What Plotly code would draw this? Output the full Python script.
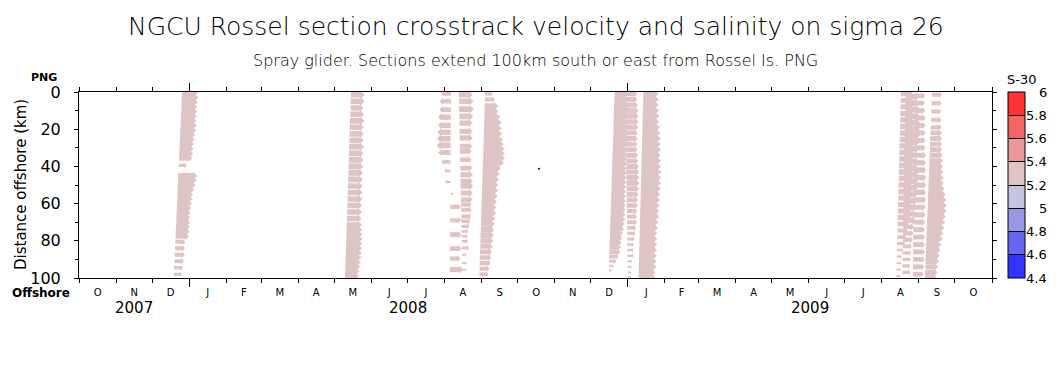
import numpy as np
import pandas as pd
import plotly.graph_objects as go

# ---------------- data ----------------
X_START = "2007-10-01"
X_END = "2009-11-01"
DIST_TICKS = [0, 20, 40, 60, 80, 100]
SAL_LEVELS = [4.4, 4.6, 4.8, 5.0, 5.2, 5.4, 5.6, 5.8, 6.0]
SAL_LABELS = ["4.4", "4.6", "4.8", "5", "5.2", "5.4", "5.6", "5.8", "6"]
SAL_COLORS = ["#3333ff", "#6666f2", "#9999e8", "#c5c5df",
              "#dfc4c6", "#e89999", "#f26666", "#ff3333"]
MONTH_LETTERS = list("ONDJFMAMJJASONDJFMAMJJASO")
YEARS = [2007, 2008, 2009]
VEL_SCALE_DAYS = 40.0  # length on the time axis (days) of a 1 m/s vector

# each section: base time at 0 km and at 100 km, distances (km), crosstrack u (m/s), salinity (S-30)
SEC1_TIME = ["2007-12-26", "2007-12-19"]
SEC1_DIST = [0.5, 3, 5.5, 8, 10.5, 13, 15.5, 18, 20.5, 23, 25.5, 28, 30.5, 33, 35.5, 39.5,
             45, 47.5, 50, 52.5, 55, 57.5, 60, 62.5, 65, 67.5, 70, 72.5, 75, 77.5,
             80.5, 84, 87.5, 91, 94.5, 98]
SEC1_U = [0.33, 0.35, 0.34, 0.33, 0.34, 0.33, 0.33, 0.34, 0.33, 0.31, 0.31, 0.30, 0.29, 0.29, 0.28, 0.17,
          0.40, 0.39, 0.37, 0.35, 0.33, 0.32, 0.31, 0.30, 0.29, 0.29, 0.29, 0.29, 0.29, 0.28,
          0.21, 0.21, 0.21, 0.20, 0.19, 0.17]
SEC1_SAL = 5.3

SEC2_TIME = ["2008-05-15", "2008-05-10"]
SEC2_DIST = [1.5, 5, 8.5, 12, 15.5, 19, 22.5, 26, 29.5, 33, 36.5, 40, 43.5, 47, 50.5, 54, 57.5, 61, 64.5, 68,
             71.5, 74, 76.5, 79, 81.5, 84, 86.5, 89, 91.5, 94, 96.5, 99]
SEC2_U = [0.29, 0.29, 0.27, 0.29, 0.30, 0.29, 0.30, 0.30, 0.31, 0.31, 0.31, 0.31, 0.31, 0.31, 0.31, 0.31,
          0.31, 0.31, 0.31, 0.31, 0.32, 0.33, 0.33, 0.34, 0.34, 0.34, 0.33, 0.33, 0.32, 0.31, 0.30, 0.29]
SEC2_SAL = 5.3

SEC3_TIME = ["2008-08-06 12:00", "2008-08-05 12:00"]
SEC3_DIST = [0.9, 5, 9.5, 13.5, 17.9, 21.7, 25.1, 28.7, 32.5, 37.6, 42.3, 48.4, 54.7,
             61.8, 69, 76.7, 84.2, 89.6, 95.5]
SEC3_U = [-0.21, -0.24, -0.24, -0.27, -0.27, -0.28, -0.29, -0.29, -0.26, -0.19, -0.13, -0.11, 0.06,
          0.22, 0.23, 0.24, 0.24, 0.22, 0.28]
SEC3_SAL = 5.3

SEC4_TIME = ["2008-08-13", "2008-08-16"]
SEC4_DIST = [1.5, 5, 9.2, 13.1, 16.7, 21.2, 24.7, 29.2, 31.9, 36.4, 40.9, 44.5, 48, 50.7, 54.3, 57.9,
             60.6, 63.3, 66.9, 69.5, 72.2, 74.9, 77.6, 80.3, 83.9, 87.5, 91.9, 95.5]
SEC4_U = [0.29, 0.30, 0.31, 0.29, 0.27, 0.27, 0.27, 0.26, 0.24, 0.24, 0.25, 0.26, 0.26, 0.26, 0.25, 0.24,
          0.22, 0.22, 0.21, 0.19, 0.17, 0.14, 0.13, 0.13, 0.15, 0.10, 0.10, 0.09]
SEC4_SAL = 5.3

SEC5_TIME = ["2008-09-04", "2008-08-30"]
SEC5_DIST = [1, 4, 7.5, 10.5, 13.5, 16.5, 19.5, 22.5, 25.5, 28, 30.5, 33, 35.5, 38, 41, 44, 47, 50,
             53, 56, 59, 62, 65, 68, 71, 74, 77, 80, 83, 86, 89, 92, 95, 98]
SEC5_U = [0.16, 0.21, 0.28, 0.29, 0.33, 0.37, 0.37, 0.38, 0.40, 0.42, 0.44, 0.45, 0.46, 0.44, 0.38, 0.36,
          0.35, 0.34, 0.34, 0.33, 0.32, 0.31, 0.31, 0.30, 0.29, 0.28, 0.28, 0.27, 0.26, 0.25, 0.24, 0.23,
          0.21, 0.19]
SEC5_SAL = 5.3

SEC6_TIME = ["2008-12-21", "2008-12-16"]
SEC6_DIST = [1, 3.5, 6, 8.5, 11, 13.5, 16, 18.5, 21, 23.5, 26, 28.5, 31, 33.5, 36, 38.5, 41, 43.5, 46,
             48.5, 51, 53.5, 56, 58.5, 61, 63.5, 66, 68.5, 71, 73.5, 76, 78.5, 81, 83.5, 86, 88.5, 91,
             93.5, 96]
SEC6_U = [0.27, 0.27, 0.28, 0.28, 0.29, 0.29, 0.29, 0.30, 0.30, 0.30, 0.31, 0.31, 0.31, 0.31, 0.31, 0.31,
          0.31, 0.31, 0.31, 0.31, 0.31, 0.31, 0.31, 0.31, 0.31, 0.31, 0.31, 0.31, 0.30, 0.29, 0.27, 0.26,
          0.25, 0.24, 0.23, 0.19, 0.15, 0.10, 0.06]
SEC6_SAL = 5.3

SEC7_TIME = ["2008-12-30", "2009-01-01"]
SEC7_DIST = [1, 4, 7, 10, 13, 16, 19, 22, 25, 28, 31, 34, 37, 40, 43, 46, 49, 52, 55, 58, 61, 64, 67,
             70, 73, 76, 79, 82, 85, 88, 91, 94, 97, 99.5]
SEC7_U = [0.25, 0.25, 0.26, 0.27, 0.27, 0.27, 0.26, 0.25, 0.25, 0.24, 0.24, 0.25, 0.25, 0.26, 0.27, 0.27,
          0.27, 0.26, 0.25, 0.24, 0.23, 0.22, 0.21, 0.21, 0.19, 0.17, 0.15, 0.14, 0.13, 0.13, 0.10, 0.09,
          0.08, 0.08]
SEC7_SAL = 5.3

SEC8_TIME = ["2009-01-14", "2009-01-10"]
SEC8_DIST = [1, 4, 7, 10, 13, 16, 19, 22, 25, 28, 31, 34, 37, 40, 43, 46, 49, 52, 55, 58, 61, 64, 67,
             70, 73, 76, 79, 82, 85, 88, 91, 94, 97, 99.5]
SEC8_U = [0.32, 0.33, 0.33, 0.34, 0.35, 0.35, 0.37, 0.38, 0.39, 0.39, 0.40, 0.40, 0.41, 0.41, 0.42, 0.42,
          0.42, 0.42, 0.41, 0.41, 0.40, 0.40, 0.40, 0.39, 0.38, 0.37, 0.37, 0.37, 0.37, 0.37, 0.37, 0.37,
          0.35, 0.35]
SEC8_SAL = 5.3

SEC9_TIME = ["2009-08-17", "2009-08-13"]
SEC9_DIST = [1, 4.5, 8, 11.5, 15, 18.5, 22, 25.5, 29, 32.5, 36, 39.5, 43, 46.5, 50, 53.5, 57, 60.5, 64,
             67.5, 71, 74.5, 78, 81.5, 85, 88.5, 92, 95.5, 99]
SEC9_U = [0.25, 0.25, 0.26, 0.26, 0.27, 0.27, 0.29, 0.29, 0.29, 0.29, 0.29, 0.29, 0.29, 0.29, 0.28, 0.28,
          0.27, 0.27, 0.27, 0.26, 0.23, 0.21, 0.19, 0.17, 0.13, 0.11, 0.10, 0.10, 0.09]
SEC9_SAL = 5.3

SEC10_TIME = ["2009-08-21", "2009-08-18"]
SEC10_DIST = [2.5, 6, 9.5, 13, 16.5, 20, 23.5, 27, 30.5, 34, 37.5, 41, 44.5, 48, 51.5, 55, 58.5, 62,
              65.5, 69, 72.5, 76, 79.5, 83, 86.5, 90, 93.5, 97]
SEC10_U = [0.29, 0.30, 0.31, 0.31, 0.31, 0.31, 0.31, 0.31, 0.31, 0.31, 0.31, 0.30, 0.30, 0.29, 0.29, 0.29,
           0.29, 0.28, 0.27, 0.26, 0.23, 0.22, 0.21, 0.19, 0.18, 0.17, 0.17, 0.17]
SEC10_SAL = 5.3

SEC11_TIME = ["2009-08-28", "2009-08-27"]
SEC11_DIST = [2, 6, 10, 14, 18, 22, 26, 30, 34, 38, 42, 46, 50, 54, 58, 62, 66, 70, 74, 78, 82, 86, 90,
              94, 98]
SEC11_U = [0.23, 0.23, 0.24, 0.25, 0.25, 0.25, 0.25, 0.25, 0.26, 0.26, 0.27, 0.27, 0.27, 0.27, 0.27, 0.26,
           0.26, 0.25, 0.25, 0.25, 0.25, 0.25, 0.25, 0.24, 0.23]
SEC11_SAL = 5.3

SEC12_TIME = ["2009-09-12", "2009-09-06"]
SEC12_DIST = [1.5, 6, 10.5, 15, 19, 22, 25, 28, 31, 34, 37, 40, 43, 46, 49, 52, 55, 58, 61, 64, 67, 70,
              73, 76, 79, 82, 85, 88, 91, 94, 97, 99.5]
SEC12_U = [0.21, 0.21, 0.21, 0.22, 0.23, 0.24, 0.25, 0.25, 0.26, 0.27, 0.28, 0.29, 0.30, 0.31, 0.32, 0.34,
           0.37, 0.39, 0.40, 0.40, 0.39, 0.38, 0.37, 0.35, 0.34, 0.32, 0.30, 0.29, 0.28, 0.27, 0.26, 0.24]
SEC12_SAL = 5.3

DOT_TIME = ["2008-10-19"]
DOT_DIST = [41.2]

SECTIONS = [
    (SEC1_TIME, SEC1_DIST, SEC1_U, SEC1_SAL),
    (SEC2_TIME, SEC2_DIST, SEC2_U, SEC2_SAL),
    (SEC3_TIME, SEC3_DIST, SEC3_U, SEC3_SAL),
    (SEC4_TIME, SEC4_DIST, SEC4_U, SEC4_SAL),
    (SEC5_TIME, SEC5_DIST, SEC5_U, SEC5_SAL),
    (SEC6_TIME, SEC6_DIST, SEC6_U, SEC6_SAL),
    (SEC7_TIME, SEC7_DIST, SEC7_U, SEC7_SAL),
    (SEC8_TIME, SEC8_DIST, SEC8_U, SEC8_SAL),
    (SEC9_TIME, SEC9_DIST, SEC9_U, SEC9_SAL),
    (SEC10_TIME, SEC10_DIST, SEC10_U, SEC10_SAL),
    (SEC11_TIME, SEC11_DIST, SEC11_U, SEC11_SAL),
    (SEC12_TIME, SEC12_DIST, SEC12_U, SEC12_SAL),
]

# ---------------- layout geometry ----------------
W, H = 1062, 371
ML, MR, MT, MB = 79, 70, 92, 93
PLOT_W = W - ML - MR
PLOT_H = H - MT - MB
t_start = pd.Timestamp(X_START)
t_end = pd.Timestamp(X_END)
PX_PER_DAY = PLOT_W / (t_end - t_start).days
PX_PER_KM = PLOT_H / 100.0
FONT = "DejaVu Sans, Liberation Sans, Arial, sans-serif"


def fmt(ts):
    return ts.strftime("%Y-%m-%d %H:%M:%S")


def arrow(t0, d, u):
    L_days = u * VEL_SCALE_DAYS
    Lpx = abs(L_days) * PX_PER_DAY
    if Lpx < 0.5:
        return [], []
    s = 1.0 if L_days > 0 else -1.0
    shaft_px = float(np.clip(0.4 * Lpx, 1.6, 5.6))
    head_px = shaft_px + 2.6
    hl_px = float(np.clip(0.28 * Lpx, 1.6, 4.5))
    hs = shaft_px / 2 / PX_PER_KM
    hh = head_px / 2 / PX_PER_KM
    x0 = t0
    x1 = t0 + pd.Timedelta(days=L_days)
    xh = x1 - pd.Timedelta(days=s * hl_px / PX_PER_DAY)
    xs = [fmt(x0), fmt(xh), fmt(xh), fmt(x1), fmt(xh), fmt(xh), fmt(x0), fmt(x0), None]
    ys = [d - hs, d - hs, d - hh, d, d + hh, d + hs, d + hs, d - hs, None]
    return xs, ys


band_x = {i: [] for i in range(len(SAL_COLORS))}
band_y = {i: [] for i in range(len(SAL_COLORS))}
for times, dists, us, sal in SECTIONS:
    ta, tb = pd.Timestamp(times[0]), pd.Timestamp(times[1])
    band = int(np.clip(np.digitize(sal, SAL_LEVELS) - 1, 0, len(SAL_COLORS) - 1))
    for d, u in zip(dists, us):
        t0 = ta + (tb - ta) * (d / 100.0)
        xs, ys = arrow(t0, d, u)
        band_x[band] += xs
        band_y[band] += ys

fig = go.Figure()
for b in range(len(SAL_COLORS)):
    if not band_x[b]:
        continue
    fig.add_trace(go.Scatter(
        x=band_x[b], y=band_y[b], mode="lines", fill="toself",
        fillcolor=SAL_COLORS[b], line=dict(width=0, color=SAL_COLORS[b]),
        hoverinfo="skip", showlegend=False))

fig.add_trace(go.Scatter(x=DOT_TIME, y=DOT_DIST, mode="markers",
                         marker=dict(size=2, color="black"), showlegend=False, hoverinfo="skip"))

# colour bar (dummy trace, outside the visible range)
n = len(SAL_COLORS)
eps = 0.5 / PLOT_H
cscale = [[0.0, SAL_COLORS[0]]]
for i in range(1, n):
    b = i / n
    cscale += [[b - eps, SAL_COLORS[i - 1]], [b - eps, "black"], [b + eps, "black"], [b + eps, SAL_COLORS[i]]]
cscale.append([1.0, SAL_COLORS[-1]])
fig.add_trace(go.Scatter(
    x=[X_START], y=[-50], mode="markers", showlegend=False, hoverinfo="skip",
    marker=dict(size=1, color=[SECTIONS[0][3]], cmin=SAL_LEVELS[0], cmax=SAL_LEVELS[-1],
                colorscale=cscale, showscale=True,
                colorbar=dict(x=(1008 - ML) / PLOT_W, xanchor="left", xref="paper",
                              y=0.5, yanchor="middle", len=1, lenmode="fraction",
                              thickness=17, thicknessmode="pixels", xpad=0, ypad=0,
                              outlinewidth=1, outlinecolor="black",
                              showticklabels=False, ticks=""))))

# axis helper traces
month_starts = pd.date_range(X_START, X_END, freq="MS")
mid_months = [m + (m + pd.offsets.MonthBegin(1) - m) / 2 for m in month_starts[:-1]]
jan_ticks = [m for m in month_starts if m.month == 1]
fig.add_trace(go.Scatter(x=[X_START], y=[-50], xaxis="x2", mode="markers",
                         marker=dict(size=1, color="rgba(0,0,0,0)"), showlegend=False, hoverinfo="skip"))
fig.add_trace(go.Scatter(x=[X_START], y=[-50], xaxis="x3", mode="markers",
                         marker=dict(size=1, color="rgba(0,0,0,0)"), showlegend=False, hoverinfo="skip"))

xr = [X_START, X_END]
fig.update_layout(
    width=W, height=H, autosize=False,
    margin=dict(l=ML, r=MR, t=MT, b=MB, autoexpand=False),
    paper_bgcolor="white", plot_bgcolor="white",
    font=dict(family=FONT, color="black"),
    showlegend=False,
    xaxis=dict(type="date", range=xr, showgrid=False, zeroline=False,
               showline=True, linecolor="black", linewidth=1, mirror="ticks",
               tickmode="array", tickvals=[fmt(m) for m in month_starts],
               ticks="outside", ticklen=4, tickwidth=1, tickcolor="black",
               showticklabels=False),
    xaxis2=dict(type="date", range=xr, overlaying="x", anchor="y", side="bottom",
                showgrid=False, zeroline=False, showline=False, mirror="ticks",
                tickmode="array", tickvals=[fmt(m) for m in jan_ticks],
                ticks="outside", ticklen=8, tickwidth=1, tickcolor="black",
                showticklabels=False),
    xaxis3=dict(type="date", range=xr, overlaying="x", anchor="y", side="bottom",
                showgrid=False, zeroline=False, showline=False,
                tickmode="array", tickvals=[fmt(m) for m in mid_months], ticktext=MONTH_LETTERS,
                ticks="outside", ticklen=5, tickcolor="rgba(0,0,0,0)",
                tickfont=dict(size=10, family=FONT)),
    yaxis=dict(range=[100, 0], showgrid=False, zeroline=False,
               showline=True, linecolor="black", linewidth=1, mirror="ticks",
               tickmode="array", tickvals=DIST_TICKS,
               ticks="outside", ticklen=4, tickwidth=1, tickcolor="black",
               minor=dict(tickvals=[10, 30, 50, 70, 90], ticks="outside", ticklen=3,
                          tickcolor="black", tickwidth=1),
               ticklabelstandoff=10, tickfont=dict(size=16, family=FONT)),
)

ann = []
ann.append(dict(text="NGCU Rossel section crosstrack velocity and salinity on sigma 26",
                xref="paper", yref="paper", x=0.5, y=1 + (MT - 27) / PLOT_H,
                xanchor="center", yanchor="middle", showarrow=False,
                font=dict(size=25, family=FONT, weight=200)))
ann.append(dict(text="Spray glider. Sections extend 100km south or east from Rossel Is. PNG",
                xref="paper", yref="paper", x=0.5, y=1 + (MT - 61) / PLOT_H,
                xanchor="center", yanchor="middle", showarrow=False,
                font=dict(size=16, family=FONT, weight=200)))
ann.append(dict(text="<b>PNG</b>", xref="paper", yref="paper", x=(44 - ML) / PLOT_W,
                y=1 + (MT - 77) / PLOT_H, xanchor="center", yanchor="middle", showarrow=False,
                font=dict(size=11, family=FONT)))
ann.append(dict(text="<b>Offshore</b>", xref="paper", yref="paper", x=(41 - ML) / PLOT_W,
                y=-(293 - MT - PLOT_H) / PLOT_H, xanchor="center", yanchor="middle", showarrow=False,
                font=dict(size=12, family=FONT)))
ann.append(dict(text="Distance offshore (km)", xref="paper", yref="paper", x=(21 - ML) / PLOT_W,
                y=0.5, xanchor="center", yanchor="middle", showarrow=False, textangle=-90,
                font=dict(size=15, family=FONT)))
for yr in YEARS:
    a = max(pd.Timestamp(f"{yr}-01-01"), t_start)
    b = min(pd.Timestamp(f"{yr + 1}-01-01"), t_end)
    mid = a + (b - a) / 2
    ann.append(dict(text=str(yr), xref="x", yref="paper", x=fmt(mid),
                    y=-(307.5 - MT - PLOT_H) / PLOT_H, xanchor="center", yanchor="middle",
                    showarrow=False, font=dict(size=15, family=FONT)))
for v, lab in zip(SAL_LEVELS, SAL_LABELS):
    ann.append(dict(text=lab, xref="paper", yref="paper", x=(1049 - ML) / PLOT_W,
                    y=(v - SAL_LEVELS[0]) / (SAL_LEVELS[-1] - SAL_LEVELS[0]),
                    xanchor="right", yanchor="middle", showarrow=False,
                    font=dict(size=13, family=FONT)))
ann.append(dict(text="S-30", xref="paper", yref="paper", x=(1022 - ML) / PLOT_W,
                y=1 + (MT - 79) / PLOT_H, xanchor="center", yanchor="middle", showarrow=False,
                font=dict(size=13, family=FONT)))
fig.update_layout(annotations=ann)

fig.write_html("out.html", config={"displayModeBar": False},
               post_script="document.body.style.margin='0px';document.body.style.overflow='hidden';")
